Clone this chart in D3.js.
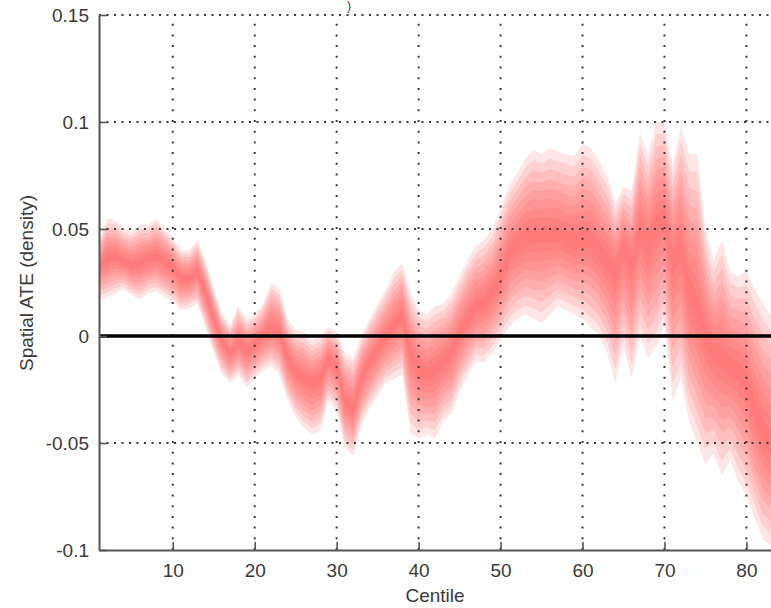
<!DOCTYPE html>
<html>
<head>
<meta charset="utf-8">
<script src="https://cdn.jsdelivr.net/npm/d3@7"></script>
<style>
    body { margin: 0; background: #fff; }
    svg { display: block; }
    text { font-family: Arial, "Liberation Sans", Helvetica, sans-serif; }
</style>
</head>
<body>
<svg id="chart" width="771" height="608"></svg>
<script>

// centile positions along the x axis
var centiles = [1,2,3,4,5,6,7,8,9,10,11,12,13,14,15,16,17,18,19,20,
    21,22,23,24,25,26,27,28,29,30,31,32,33,34,35,36,37,38,39,40,
    41,42,43,44,45,46,47,48,49,50,51,52,53,54,55,56,57,58,59,60,
    61,62,63,64,65,66,67,68,69,70,71,72,73,74,75,76,77,78,79,80,
    81,82,83];

// centre of the fan (median spatial ATE)
var medianATE = [0.032,0.036,0.037,0.035,0.033,0.034,0.036,0.037,0.035,0.032,
    0.027,0.027,0.030,0.020,0.008,-0.002,-0.008,-0.003,-0.007,-0.004,
    0.000,0.004,0.002,-0.010,-0.017,-0.020,-0.022,-0.020,-0.010,-0.015,
    -0.030,-0.034,-0.020,-0.012,-0.006,0.000,0.005,0.010,-0.008,-0.015,
    -0.018,-0.016,-0.012,-0.008,0.001,0.008,0.014,0.015,0.020,0.028,
    0.038,0.043,0.046,0.047,0.048,0.047,0.047,0.045,0.044,0.045,
    0.045,0.040,0.035,0.030,0.042,0.033,0.050,0.042,0.052,0.055,
    0.035,0.042,0.020,0.012,0.000,-0.008,-0.010,-0.015,-0.016,-0.022,
    -0.035,-0.045,-0.050];

// outer edge of the fan, upper side
var upperATE = [0.045,0.055,0.054,0.050,0.049,0.052,0.052,0.055,0.050,0.046,
    0.040,0.040,0.045,0.035,0.022,0.010,0.005,0.014,0.008,0.010,
    0.015,0.025,0.022,0.008,0.003,0.002,-0.002,0.000,0.004,0.002,
    -0.008,-0.010,0.000,0.008,0.015,0.022,0.030,0.034,0.020,0.012,
    0.010,0.014,0.015,0.020,0.028,0.036,0.042,0.045,0.050,0.060,
    0.070,0.076,0.083,0.087,0.085,0.088,0.086,0.085,0.084,0.090,
    0.088,0.082,0.075,0.062,0.070,0.068,0.095,0.085,0.100,0.100,
    0.080,0.098,0.085,0.085,0.050,0.035,0.045,0.030,0.028,0.030,
    0.022,0.015,0.010];

// outer edge of the fan, lower side
var lowerATE = [0.017,0.018,0.020,0.022,0.019,0.017,0.020,0.021,0.018,0.016,
    0.012,0.013,0.015,0.004,-0.008,-0.018,-0.022,-0.018,-0.024,-0.020,
    -0.016,-0.014,-0.018,-0.030,-0.038,-0.043,-0.046,-0.044,-0.030,-0.035,
    -0.052,-0.056,-0.042,-0.034,-0.028,-0.022,-0.020,-0.018,-0.045,-0.048,
    -0.046,-0.048,-0.040,-0.036,-0.026,-0.018,-0.012,-0.012,-0.008,-0.002,
    0.004,0.008,0.010,0.008,0.006,0.010,0.014,0.012,0.010,0.008,
    0.004,0.000,-0.008,-0.022,-0.005,-0.020,0.000,-0.010,-0.005,0.005,
    -0.030,-0.020,-0.040,-0.050,-0.060,-0.055,-0.065,-0.058,-0.068,-0.075,
    -0.085,-0.095,-0.098];

var xTicks = [10,20,30,40,50,60,70,80];
var yTicks = [-0.1,-0.05,0,0.05,0.1,0.15];
var yTickLabels = ["-0.1","-0.05","0","0.05","0.1","0.15"];

// share of the outer spread covered by each nested band
var bandLevels = [1, 0.88, 0.76, 0.64, 0.53, 0.42, 0.31, 0.2, 0.1];

var plotLeft = 99, plotRight = 771, plotTop = 15, plotBottom = 550;

var svg = d3.select("#chart");

var x = d3.scaleLinear().domain([1, 83]).range([plotLeft, plotRight]);
var y = d3.scaleLinear().domain([-0.1, 0.15]).range([plotBottom, plotTop]);

var rows = centiles.map(function (c, i) {
    return {c: c, med: medianATE[i], hi: upperATE[i], lo: lowerATE[i]};
});

//****************************FAN BANDS***************************************************

var bandG = svg.append("g").attr("class", "bands");

bandLevels.forEach(function (f) {
    var area = d3.area()
        .x(function (d) { return x(d.c); })
        .y0(function (d) { return y(d.med + f * (d.lo - d.med)); })
        .y1(function (d) { return y(d.med + f * (d.hi - d.med)); });

    bandG.append("path")
        .datum(rows)
        .attr("d", area)
        .attr("fill", "#ff5252")
        .attr("fill-opacity", 0.145)
        .attr("stroke", "none");
});

//****************************GRID***************************************************

var gridG = svg.append("g").attr("class", "grid");

gridG.selectAll("line.vgrid")
    .data(xTicks)
    .enter()
    .append("line")
    .attr("class", "vgrid")
    .attr("x1", function (d) { return x(d); })
    .attr("x2", function (d) { return x(d); })
    .attr("y1", plotBottom)
    .attr("y2", plotTop)
    .attr("stroke", "#3a3a3a")
    .attr("stroke-width", 2)
    .attr("stroke-dasharray", "2,8.7");

gridG.selectAll("line.hgrid")
    .data(yTicks.filter(function (d) { return d !== -0.1 && d !== 0; }))
    .enter()
    .append("line")
    .attr("class", "hgrid")
    .attr("x1", plotLeft)
    .attr("x2", plotRight)
    .attr("y1", function (d) { return y(d); })
    .attr("y2", function (d) { return y(d); })
    .attr("stroke", "#3a3a3a")
    .attr("stroke-width", 2)
    .attr("stroke-dasharray", "2,5.5");

//****************************ZERO LINE***************************************************

svg.append("line")
    .attr("x1", plotLeft)
    .attr("x2", plotRight)
    .attr("y1", y(0))
    .attr("y2", y(0))
    .attr("stroke", "#000")
    .attr("stroke-width", 3.5);

//****************************AXES***************************************************

var xAxis = d3.axisBottom(x)
    .tickValues(xTicks)
    .tickSizeInner(-8)
    .tickSizeOuter(0)
    .tickPadding(14)
    .tickFormat(d3.format("d"));

var yAxis = d3.axisLeft(y)
    .tickValues(yTicks)
    .tickSizeInner(-8)
    .tickSizeOuter(0)
    .tickPadding(10)
    .tickFormat(function (d, i) { return yTickLabels[i]; });

var xAxisG = svg.append("g")
    .attr("transform", "translate(0," + plotBottom + ")")
    .call(xAxis);

var yAxisG = svg.append("g")
    .attr("transform", "translate(" + plotLeft + ",0)")
    .call(yAxis);

[xAxisG, yAxisG].forEach(function (g) {
    g.select(".domain").attr("stroke", "#555").attr("stroke-width", 2);
    g.selectAll(".tick line").attr("stroke", "#555").attr("stroke-width", 1.6);
    g.selectAll(".tick text")
        .attr("fill", "#3a3a3a")
        .style("font-size", "19px")
        .style("font-family", "Arial, 'Liberation Sans', sans-serif");
});

//****************************LABELS***************************************************

svg.append("text")
    .attr("x", 435)
    .attr("y", 602)
    .attr("text-anchor", "middle")
    .attr("fill", "#3a3a3a")
    .style("font-size", "19px")
    .text("Centile");

svg.append("text")
    .attr("transform", "translate(33,283) rotate(-90)")
    .attr("text-anchor", "middle")
    .attr("fill", "#3a3a3a")
    .style("font-size", "19px")
    .text("Spatial ATE (density)");

// tail of the cropped title above the plot
svg.append("text")
    .attr("x", 349)
    .attr("y", 10)
    .attr("text-anchor", "middle")
    .attr("fill", "#3a3a3a")
    .style("font-size", "12px")
    .text(")");

</script>
</body>
</html>
